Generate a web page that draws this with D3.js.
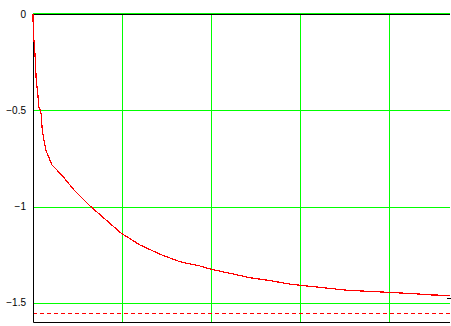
<!DOCTYPE html>
<html lang="en">
<head>
  <meta charset="UTF-8">
  <title>Curve</title>
  <script src="https://d3js.org/d3.v7.min.js"></script>
  <style>
    body { margin: 0; background: #fff; }
    text { font-family: "Liberation Sans", Arial, sans-serif; font-size: 10px; }
  </style>
</head>
<body>
<div id="chart"></div>

<script>
// values (x in grid units, y as plotted)
var curveX = [0, 0.003, 0.019, 0.030, 0.037, 0.053, 0.064, 0.084, 0.093, 0.104, 0.143, 0.213,
              0.322, 0.461, 0.640, 0.989, 1.202, 1.315, 1.427, 1.652, 1.876, 2.0, 2.213,
              2.438, 2.663, 2.888, 3.0, 3.528, 4.0, 4.202, 4.382, 4.494, 4.685];
var curveY = [0, -0.099, -0.177, -0.281, -0.353, -0.405, -0.483, -0.499, -0.525, -0.603, -0.706, -0.784,
              -0.836, -0.914, -0.997, -1.138, -1.200, -1.224, -1.248, -1.287, -1.309, -1.326, -1.347,
              -1.370, -1.385, -1.403, -1.409, -1.435, -1.446, -1.451, -1.456, -1.460, -1.461];
var dashedLevel = -1.555;
var endMarker = -1.477;
var yTicks = [0, -0.5, -1, -1.5];
var xGrid = [1, 2, 3, 4];
var xDomain = [0, 4.685];
var yDomain = [0, -1.6];

function draw() {
  var W = 451, H = 326;
  var pLeft = 33, pTop = 14, pRight = 450, pBottom = 322;

  var svg = d3.select("#chart").append("svg")
    .attr("width", W)
    .attr("height", H);

  var x = d3.scaleLinear().domain(xDomain).range([pLeft, pRight]);
  var y = d3.scaleLinear().domain(yDomain).range([pTop, pBottom]);

  // green grid
  svg.selectAll(".hgrid")
    .data(yTicks)
    .enter().append("line")
    .attr("x1", pLeft).attr("x2", pRight)
    .attr("y1", function(d) { return d === 0 ? pTop - 0.5 : Math.round(y(d)) + 0.5; })
    .attr("y2", function(d) { return d === 0 ? pTop - 0.5 : Math.round(y(d)) + 0.5; })
    .attr("stroke", "#00ff00")
    .attr("stroke-width", 1);

  svg.selectAll(".vgrid")
    .data(xGrid)
    .enter().append("line")
    .attr("x1", function(d) { return Math.round(x(d)) + 0.5; })
    .attr("x2", function(d) { return Math.round(x(d)) + 0.5; })
    .attr("y1", pTop).attr("y2", pBottom)
    .attr("stroke", "#00ff00")
    .attr("stroke-width", 1);

  // dashed level
  svg.append("line")
    .attr("x1", pLeft).attr("x2", pRight)
    .attr("y1", Math.round(y(dashedLevel)) + 0.5)
    .attr("y2", Math.round(y(dashedLevel)) + 0.5)
    .attr("stroke", "#ff0000")
    .attr("stroke-dasharray", "4,3");

  // frame (left, top, bottom)
  svg.append("path")
    .attr("d", "M" + pRight + "," + (pTop + 0.5) + "H" + (pLeft + 0.5) + "V" + (pBottom + 0.5) + "H" + pRight)
    .attr("fill", "none")
    .attr("stroke", "#000")
    .attr("stroke-width", 1);

  // small marker at the right end
  svg.append("line")
    .attr("x1", x(xDomain[1]) - 3).attr("x2", x(xDomain[1]) + 1)
    .attr("y1", Math.round(y(endMarker)) + 0.5)
    .attr("y2", Math.round(y(endMarker)) + 0.5)
    .attr("stroke", "#000");

  // curve
  var line = d3.line()
    .x(function(d, i) { return x(curveX[i]); })
    .y(function(d) { return y(d); });

  svg.append("path")
    .datum(curveY)
    .attr("d", line)
    .attr("fill", "none")
    .attr("stroke", "#ff0000")
    .attr("stroke-width", 1.2)
    .attr("shape-rendering", "crispEdges");

  // y labels
  var fmt = d3.format("");
  svg.selectAll(".ylab")
    .data(yTicks)
    .enter().append("text")
    .attr("x", pLeft - 7)
    .attr("y", function(d) { return y(d); })
    .attr("dy", "0.35em")
    .attr("text-anchor", "end")
    .attr("fill", "#000")
    .text(function(d) { return fmt(d); });
}

draw();
</script>
</body>
</html>
